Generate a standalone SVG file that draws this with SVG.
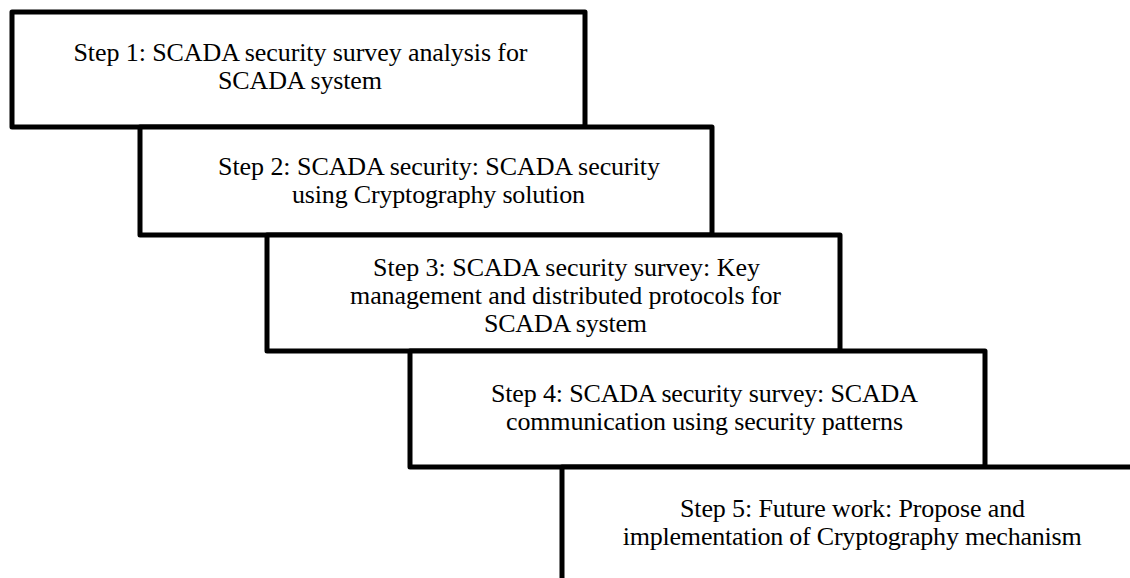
<svg xmlns="http://www.w3.org/2000/svg" width="1130" height="578" viewBox="0 0 1130 578">
<style>
.box{fill:#fff;stroke:#000;stroke-width:5;stroke-linejoin:round}
.t{font-family:"Liberation Serif","Times New Roman",serif;font-size:26px;fill:#000;text-anchor:middle}
</style>
<rect width="1130" height="578" fill="#fff"/>
<g id="step1"><rect class="box" x="12" y="12" width="573" height="115"/>
<text class="t" x="300.5" y="61" textLength="454">Step 1: SCADA security survey analysis for</text>
<text class="t" x="300" y="89" textLength="164">SCADA system</text></g>
<g id="step2"><rect class="box" x="140" y="127" width="572" height="108"/>
<text class="t" x="439" y="175" textLength="442">Step 2: SCADA security: SCADA security</text>
<text class="t" x="438.5" y="203" textLength="293">using Cryptography solution</text></g>
<g id="step3"><rect class="box" x="267" y="235" width="573" height="116"/>
<text class="t" x="566.5" y="276" textLength="387">Step 3: SCADA security survey: Key</text>
<text class="t" x="565.5" y="304" textLength="431">management and distributed protocols for</text>
<text class="t" x="565.5" y="332" textLength="163">SCADA system</text></g>
<g id="step4"><rect class="box" x="410" y="351" width="575" height="116"/>
<text class="t" x="704.5" y="402" textLength="427">Step 4: SCADA security survey: SCADA</text>
<text class="t" x="704.5" y="430" textLength="397">communication using security patterns</text></g>
<g id="step5"><rect class="box" x="562" y="467" width="600" height="140"/>
<text class="t" x="852.5" y="517" textLength="345">Step 5: Future work: Propose and</text>
<text class="t" x="852.2" y="545" textLength="459">implementation of Cryptography mechanism</text></g>
<g id="connectors"></g>
</svg>
